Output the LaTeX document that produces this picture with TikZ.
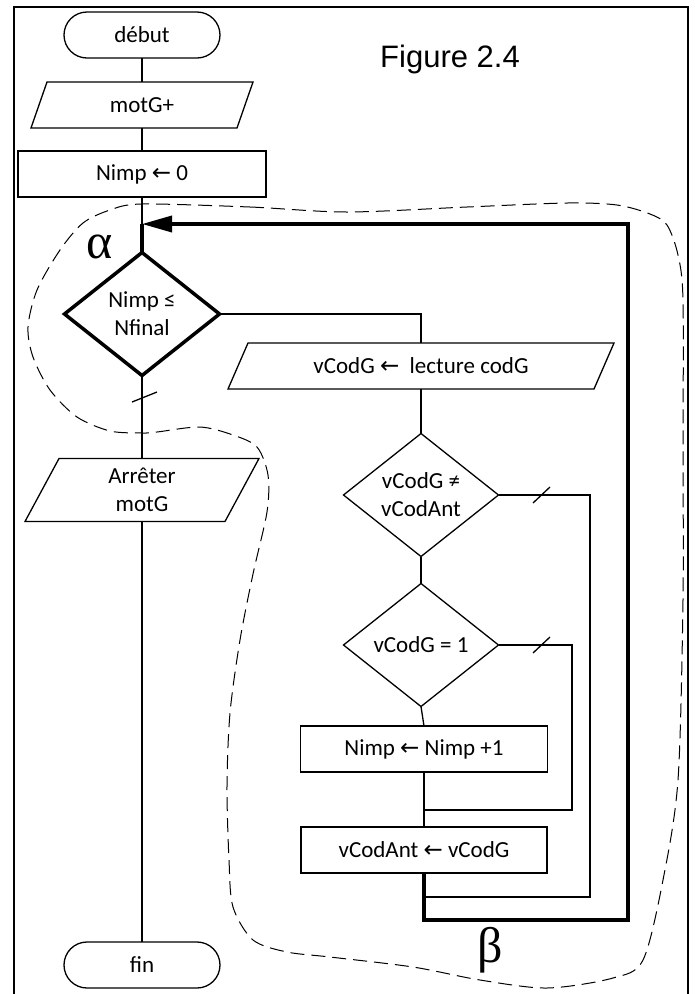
\documentclass[tikz,border=0pt]{standalone}
\usepackage{fontspec}
\setmainfont{Carlito}
\newfontfamily\figfont{Liberation Sans}
\newfontfamily\grkfont{Liberation Serif}
\newfontfamily\arrfont{DejaVu Sans}
\usetikzlibrary{arrows.meta,shapes.geometric}
\newcommand{\larr}{{\arrfont ←}}
\newcommand{\slantbox}[2]{%
  \draw[flow] ([xshift=#2]#1.north west) -- ([xshift=#2]#1.north east)
    -- ([xshift=-#2]#1.south east) -- ([xshift=-#2]#1.south west) -- cycle;}

\begin{document}
\begin{tikzpicture}[x=1pt, y=-1pt,
    font=\fontsize{23}{28}\selectfont,
    flow/.style={line width=1.3pt},
    loopline/.style={line width=3.6pt},
    term/.style={draw, flow, rounded corners=23pt, minimum width=156pt, minimum height=46pt, inner sep=0pt, outer sep=0pt},
    box/.style={draw, flow, rectangle, minimum width=#1, minimum height=46pt, inner sep=0pt, outer sep=0pt},
    io/.style={rectangle, minimum width=#1, minimum height=46pt, inner sep=0pt, outer sep=0pt, align=center},
    test/.style={draw, flow, diamond, aspect=1.26, minimum width=155pt, minimum height=123pt,
      inner sep=0pt, outer sep=0pt, align=center},
    zone/.style={line width=1pt, dash pattern=on 14pt off 7pt},
    grk/.style={font=\grkfont\fontsize{50}{56}\selectfont, anchor=base}
  ]
    \useasboundingbox (0,0) rectangle (694,994);
    \draw[line width=1.8pt] (14,994) -- (14,7) -- (688,7) -- (688,994);
    \node[font=\figfont\fontsize{31}{36}\selectfont, anchor=base] (title) at (450,67) {Figure 2.4};

    \node[term] (debut) at (142,35) {début};
    \node[io=206pt] (motg) at (142,105) {motG+};
    \slantbox{motg}{8pt}
    \node[box=248pt] (init) at (142,174) {Nimp \larr{} 0};
    \coordinate (back) at (142,224);
    \node[test, line width=3.5pt] (cond) at (142,314) {Nimp ≤\\Nfinal};
    \node[io=200pt, minimum height=63pt] (stop) at (142,490) {Arrêter\\motG};
    \slantbox{stop}{17pt}
    \node[term] (fin) at (142,965) {fin};

    \node[io=366pt] (read) at (421,366) {vCodG \larr{}\ \ lecture codG};
    \slantbox{read}{10pt}
    \node[test] (diff) at (421,495) {vCodG ≠\\vCodAnt};
    \node[test] (one) at (421,645) {vCodG = 1};
    \node[box=247pt] (incr) at (424,749) {Nimp \larr{} Nimp +1};
    \node[box=246pt] (save) at (424,850) {vCodAnt \larr{} vCodG};

    \coordinate (c2) at (590,897);
    \coordinate (j2) at (424,897);
    \coordinate (c3) at (572,810);
    \coordinate (j3) at (424,810);
    \coordinate (b1) at (424,920);
    \coordinate (b2) at (628,224);

    \draw[flow] (debut) -- (motg);
    \draw[flow] (motg) -- (init);
    \draw[flow] (init) -- (back);
    \draw[loopline] (back) -- (cond);
    \draw[flow] (cond.east) -| (read.north);
    \draw[flow] (cond) -- (stop);
    \draw[flow] (stop) -- (fin);
    \draw[flow] (read) -- (diff);
    \draw[flow] (diff) -- (one);
    \draw[flow] (one.south) -- (incr.north);
    \draw[flow] (incr) -- (save);
    \draw[flow] (diff.east) -| (c2) -- (j2);
    \draw[flow] (one.east) -| (c3) -- (j3);
    \draw[loopline, -{Triangle[length=30pt, width=16pt]}] (save.south) -- (b1) -| (b2) -- (back);

    \draw[flow] (132,402) -- (157,392);
    \draw[flow] (533,503) -- (550,487);
    \draw[flow] (533,653) -- (550,637);

    \node[grk] (alpha) at (100,258) {α};
    \node[grk] (beta) at (490,962) {β};

    \draw[zone] plot[smooth cycle] coordinates {
      (142,204) (250,207) (347,212) (467,207) (567,203) (617,205) (650,214) (667,225)
      (678,255) (683,300) (683,450) (683,600) (678,780) (663,880) (643,960) (613,978)
      (547,988) (480,980) (413,967) (330,957) (287,952) (253,940) (233,907) (229,860)
      (227,786) (230,713) (240,640) (253,574) (267,512) (268,475) (257,447) (233,435)
      (200,427) (157,432) (142,433) (110,431) (77,417) (50,390) (33,357) (28,327)
      (37,290) (60,250) (83,223) (110,210)};
  \end{tikzpicture}
\end{document}
